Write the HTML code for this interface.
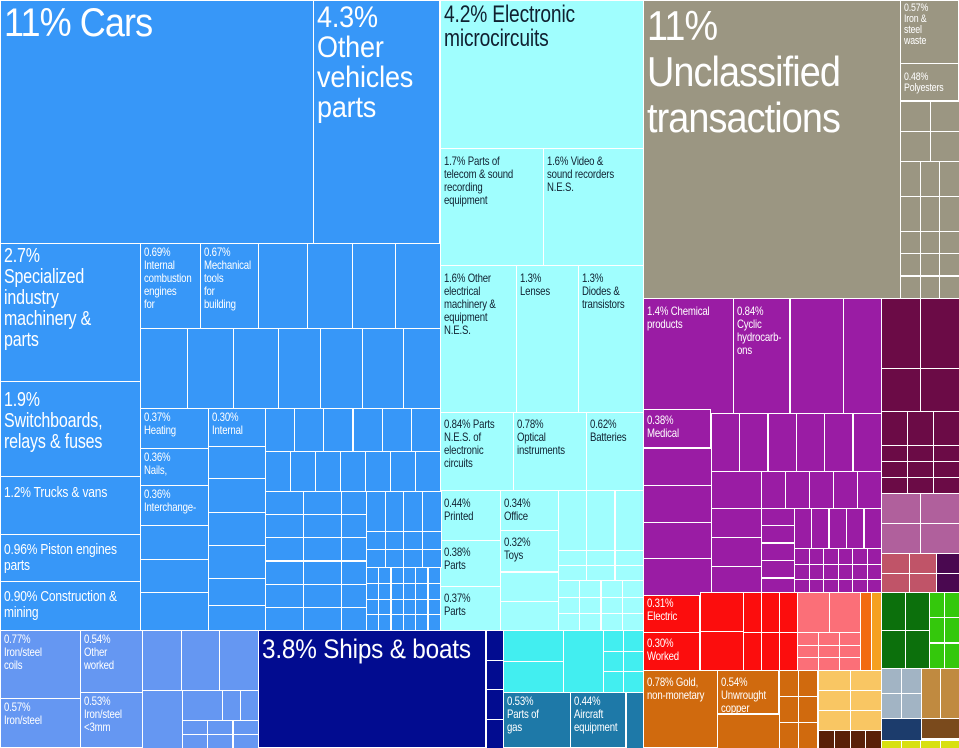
<!DOCTYPE html>
<html><head><meta charset="utf-8"><style>
html,body{margin:0;padding:0;background:#fff;}
#c{position:relative;width:959px;height:748px;overflow:hidden;background:#fff;}
.r{position:absolute;box-sizing:border-box;border:1px solid #fff;overflow:hidden;color:#fff;white-space:nowrap;
font-family:"Liberation Sans Narrow","Liberation Sans",sans-serif;font-size:12px;line-height:13px;padding:2px 3px;letter-spacing:-0.2px}
.t{display:inline-block;transform:scaleX(.8);transform-origin:0 0}
.big .t,.mid .t{transform:scaleX(.9)}
.d{color:#102030}
.big{font-size:40px;line-height:40px;letter-spacing:-1px}
.mid{font-size:30px;line-height:30px}
.l2{font-size:20px;line-height:21px}
.l3{font-size:15px;line-height:16px}
</style></head><body><div id="c">
<div class="r big" style="left:0;top:0;width:314px;height:244px;background:#3797f8">11% Cars</div>
<div class="r mid" style="left:313px;top:0;width:127px;height:244px;background:#3797f8">4.3%<br>Other<br>vehicles<br>parts</div>
<div class="r l2" style="left:0;top:243px;width:141px;height:139px;background:#3797f8">2.7%<br>Specialized<br>industry<br>machinery &amp;<br>parts</div>
<div class="r l2" style="left:0;top:381px;width:141px;height:96px;background:#3797f8;padding-top:8px">1.9%<br>Switchboards,<br>relays &amp; fuses</div>
<div class="r l3" style="left:0;top:476px;width:141px;height:59px;background:#3797f8;padding-top:8px">1.2% Trucks &amp; vans</div>
<div class="r l3" style="left:0;top:534px;width:141px;height:48px;background:#3797f8;padding-top:7px">0.96% Piston engines<br>parts</div>
<div class="r l3" style="left:0;top:581px;width:141px;height:50px;background:#3797f8;padding-top:7px">0.90% Construction &amp;<br>mining</div>
<div class="r" style="left:140px;top:243px;width:61px;height:86px;background:#3797f8">0.69%<br>Internal<br>combustion<br>engines<br>for</div>
<div class="r" style="left:200px;top:243px;width:59px;height:86px;background:#3797f8">0.67%<br>Mechanical<br>tools<br>for<br>building</div>
<div class="r" style="left:140px;top:408px;width:69px;height:41px;background:#3797f8">0.37%<br>Heating</div>
<div class="r" style="left:140px;top:448px;width:69px;height:38px;background:#3797f8">0.36%<br>Nails,</div>
<div class="r" style="left:140px;top:485px;width:69px;height:41px;background:#3797f8">0.36%<br>Interchange-</div>
<div class="r" style="left:208px;top:408px;width:58px;height:39px;background:#3797f8">0.30%<br>Internal</div>
<div class="r" style="left:0;top:630px;width:81px;height:69px;background:#6597f2">0.77%<br>Iron/steel<br>coils</div>
<div class="r" style="left:0;top:698px;width:81px;height:50px;background:#6597f2">0.57%<br>Iron/steel</div>
<div class="r" style="left:80px;top:630px;width:63px;height:63px;background:#6597f2">0.54%<br>Other<br>worked</div>
<div class="r" style="left:80px;top:692px;width:63px;height:56px;background:#6597f2">0.53%<br>Iron/steel<br>&lt;3mm</div>
<div class="r mid" style="left:258px;top:630px;width:228px;height:118px;background:#020c90;font-size:27px;padding-top:3px">3.8% Ships &amp; boats</div>
<div class="r d l2" style="left:440px;top:0;width:204px;height:149px;background:#a0fefe;font-size:24px;line-height:24px">4.2% Electronic<br>microcircuits</div>
<div class="r d" style="left:440px;top:148px;width:104px;height:118px;background:#a0fefe;padding-top:6px">1.7% Parts of<br>telecom &amp; sound<br>recording<br>equipment</div>
<div class="r d" style="left:543px;top:148px;width:101px;height:118px;background:#a0fefe;padding-top:6px">1.6% Video &amp;<br>sound recorders<br>N.E.S.</div>
<div class="r d" style="left:440px;top:265px;width:77px;height:148px;background:#a0fefe;padding-top:6px">1.6% Other<br>electrical<br>machinery &amp;<br>equipment<br>N.E.S.</div>
<div class="r d" style="left:516px;top:265px;width:63px;height:148px;background:#a0fefe;padding-top:6px">1.3%<br>Lenses</div>
<div class="r d" style="left:578px;top:265px;width:66px;height:148px;background:#a0fefe;padding-top:6px">1.3%<br>Diodes &amp;<br>transistors</div>
<div class="r d" style="left:440px;top:412px;width:74px;height:79px;background:#a0fefe;padding-top:5px">0.84% Parts<br>N.E.S. of<br>electronic<br>circuits</div>
<div class="r d" style="left:513px;top:412px;width:74px;height:79px;background:#a0fefe;padding-top:5px">0.78%<br>Optical<br>instruments</div>
<div class="r d" style="left:586px;top:412px;width:58px;height:79px;background:#a0fefe;padding-top:5px">0.62%<br>Batteries</div>
<div class="r d" style="left:440px;top:490px;width:61px;height:51px;background:#a0fefe;padding-top:6px">0.44%<br>Printed</div>
<div class="r d" style="left:500px;top:490px;width:59px;height:41px;background:#a0fefe;padding-top:6px">0.34%<br>Office</div>
<div class="r d" style="left:500px;top:530px;width:59px;height:42px;background:#a0fefe;padding-top:5px">0.32%<br>Toys</div>
<div class="r d" style="left:440px;top:540px;width:61px;height:47px;background:#a0fefe;padding-top:5px">0.38%<br>Parts</div>
<div class="r d" style="left:440px;top:586px;width:61px;height:45px;background:#a0fefe;padding-top:5px">0.37%<br>Parts</div>
<div class="r" style="left:503px;top:692px;width:68px;height:56px;background:#1e79a8">0.53%<br>Parts of<br>gas</div>
<div class="r" style="left:570px;top:692px;width:56px;height:56px;background:#1e79a8">0.44%<br>Aircraft<br>equipment</div>
<div class="r big" style="left:643px;top:0;width:258px;height:299px;background:#9b9682;line-height:46px;font-size:42px">11%<br>Unclassified<br>transactions</div>
<div class="r" style="left:900px;top:0;width:59px;height:64px;background:#9b9682;font-size:11px;line-height:11px">0.57%<br>Iron &amp;<br>steel<br>waste</div>
<div class="r" style="left:900px;top:63px;width:59px;height:38px;background:#9b9682;font-size:11px;line-height:11px;padding-top:8px">0.48%<br>Polyesters</div>
<div class="r" style="left:643px;top:298px;width:91px;height:116px;background:#9a1ca4;padding-top:6px">1.4% Chemical<br>products</div>
<div class="r" style="left:733px;top:298px;width:57px;height:116px;background:#9a1ca4;padding-top:6px">0.84%<br>Cyclic<br>hydrocarb-<br>ons</div>
<div class="r" style="left:643px;top:409px;width:68px;height:39px;background:#9a1ca4;padding-top:4px">0.38%<br>Medical</div>
<div class="r" style="left:643px;top:592px;width:57px;height:41px;background:#fc0d0d;padding-top:4px">0.31%<br>Electric</div>
<div class="r" style="left:643px;top:632px;width:57px;height:39px;background:#fc0d0d;padding-top:4px">0.30%<br>Worked</div>
<div class="r" style="left:643px;top:670px;width:75px;height:78px;background:#d06a0e;padding-top:5px">0.78% Gold,<br>non-monetary</div>
<div class="r" style="left:717px;top:670px;width:62px;height:44px;background:#d06a0e;padding-top:5px">0.54%<br>Unwrought<br>copper</div>
<div id="g"></div>
</div>
<script>
var c=document.getElementById('c');
Array.prototype.forEach.call(document.querySelectorAll('.r'),function(e){e.innerHTML='<span class="t">'+e.innerHTML+'</span>';});
function R(x,y,w,h,col){var d=document.createElement('div');d.className='r';d.style.cssText='left:'+x+'px;top:'+y+'px;width:'+(w+1)+'px;height:'+(h+1)+'px;background:'+col;c.insertBefore(d,document.getElementById('g'));}
function G(x,y,w,h,cols,rows,col){var cw=w/cols,rh=h/rows;for(var i=0;i<cols;i++)for(var j=0;j<rows;j++)R(Math.round(x+i*cw),Math.round(y+j*rh),Math.round(cw),Math.round(rh),col);}
var B='#3797f8';
[[258,49],[307,45],[352,43],[395,45]].forEach(function(a){R(a[0],243,a[1],85,B)});
[140,187,233,278,320,362,403].forEach(function(x,i,a){var n=a[i+1]||440;R(x,328,n-x,80,B)});
[[525,34],[559,33],[592,38]].forEach(function(a){R(140,a[0],68,a[1],B)});
[[446,32],[478,34],[512,33],[545,33],[578,27],[605,25]].forEach(function(a){R(208,a[0],57,a[1],B)});
G(265,408,175,43,6,1,B);G(265,451,175,40,7,1,B);
G(265,491,38,139,1,6,B);G(303,491,38,139,1,6,B);G(341,491,25,139,1,6,B);
G(366,491,74,40,4,1,B);G(366,531,74,36,4,2,B);G(366,567,74,63,6,4,B);
var S='#6597f2';
G(142,630,116,60,3,1,S);G(142,690,40,58,1,1,S);G(182,690,40,30,1,1,S);G(222,690,36,30,2,1,S);G(182,720,76,28,3,2,S);
G(486,630,17,118,1,4,'#020c90');
var C='#a0fefe';
G(558,490,85,60,3,1,C);G(558,550,85,30,3,2,C);G(558,580,85,50,4,3,C);
G(500,572,58,58,1,2,C);
var T='#42eef0';
G(503,630,60,62,1,2,T);G(563,630,40,62,1,1,T);G(603,630,40,62,2,3,T);
R(626,692,17,56,'#1e79a8');
var Y='#9b9682';
G(900,101,59,60,2,2,Y);G(900,161,59,70,3,2,Y);G(900,231,59,67,3,3,Y);
var P='#9a1ca4';
R(790,298,53,116,P);R(843,298,38,116,P);
G(643,448,68,147,1,4,P);G(711,413,170,58,6,1,P);
G(711,471,50,37,1,1,P);G(761,471,120,37,5,1,P);G(711,508,50,87,1,3,P);
G(761,508,33,87,1,5,P);G(794,508,87,40,5,1,P);G(794,548,87,47,6,3,P);
var M='#6b0b46';
G(881,298,78,70,2,1,M);G(881,368,78,43,2,1,M);G(881,411,78,34,3,1,M);G(881,445,78,48,3,3,M);
G(881,493,78,60,2,2,'#b0609c');G(881,553,55,40,2,2,'#c05468');G(936,553,23,40,1,2,'#4a0850');
var RD='#fc0d0d';
G(700,592,43,78,1,2,RD);G(743,592,54,40,3,1,RD);G(743,632,54,38,3,1,RD);
var PK='#fb6f78';G(797,592,63,40,2,1,PK);G(797,632,63,38,3,3,PK);R(860,592,11,78,'#f26b10');R(871,592,10,78,'#f5a020');
var O='#d06a0e';R(717,714,62,34,O);G(779,670,38,78,2,3,O);
G(818,670,63,60,2,3,'#f9c663');G(818,730,63,18,4,1,'#5a2008');
G(881,592,48,76,2,2,'#0c700c');G(929,592,30,76,2,3,'#34c80c');
G(881,668,40,50,2,2,'#a2b4c4');G(921,668,38,50,2,1,'#c08a40');
R(881,718,40,22,'#1c3c6c');R(921,718,38,20,'#7a4a1c');G(881,740,78,8,4,1,'#d8e010');
</script>
</body></html>
